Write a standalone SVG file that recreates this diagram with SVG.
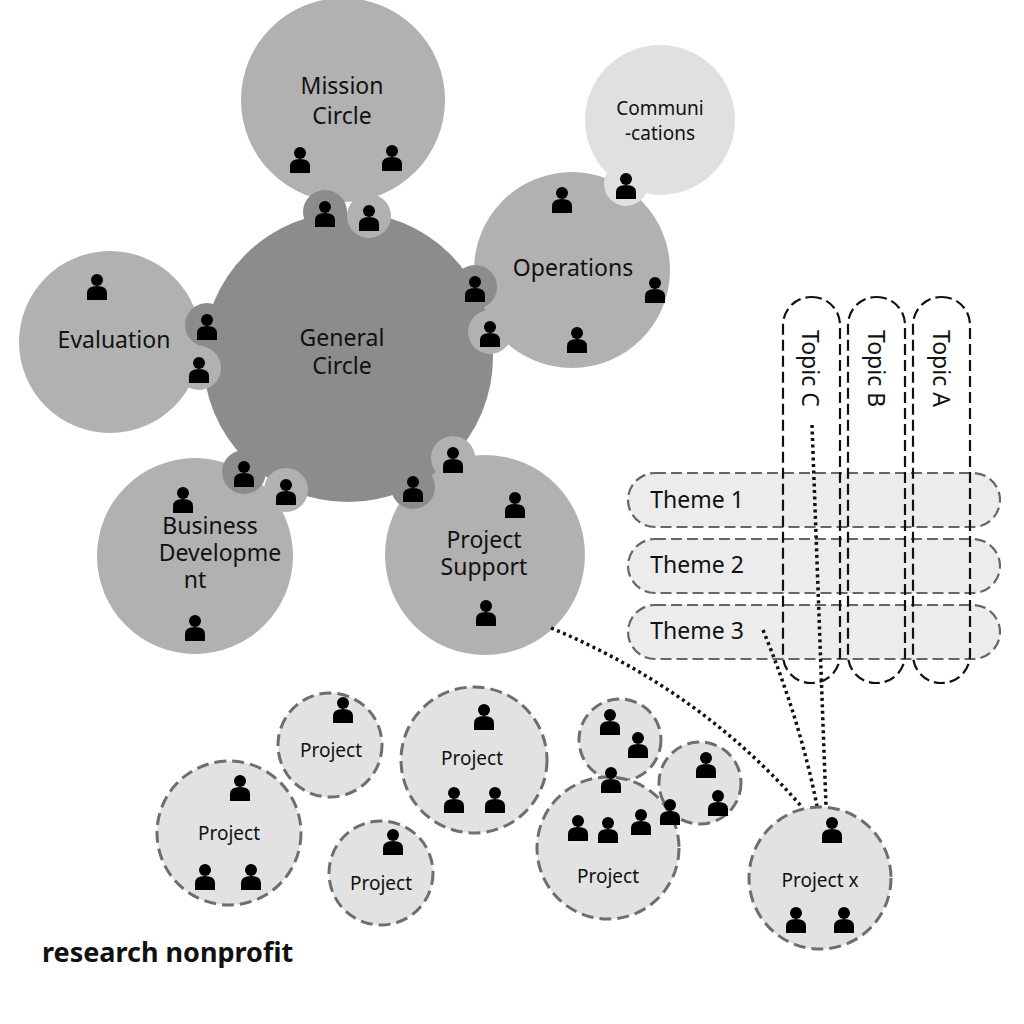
<svg xmlns="http://www.w3.org/2000/svg" xmlns:xlink="http://www.w3.org/1999/xlink" width="1024" height="1024" viewBox="0 0 1024 1024">
<style>
text{font-family:"Noto Sans","Liberation Sans",sans-serif;fill:#111;text-anchor:middle}
.big{font-size:23px}
.sm{font-size:19px}
.c1{fill:#b1b1b1}
.c0{fill:#8c8c8c}
.c2{fill:#e0e0e0}
.proj{fill:#e2e2e2;stroke:#6e6e6e;stroke-width:3;stroke-dasharray:12 6}
.theme{fill:#ececec;stroke:#666;stroke-width:2.2;stroke-dasharray:11 5}
.topic{fill:none;stroke:#111;stroke-width:2.2;stroke-dasharray:11 5}
.dot{fill:none;stroke:#111;stroke-width:3.5;stroke-dasharray:3 3.5}
</style>
<defs>
<g id="p"><circle cx="0" cy="-7" r="6" fill="#000"/><path d="M-10 13 V6 Q-10 -1 0 -1 Q10 -1 10 6 V13 Z" fill="#000"/></g>
</defs>
<rect width="1024" height="1024" fill="#fff"/>
<g id="mission"><circle class="c1" cx="343" cy="100" r="102"/><text class="big" x="342" y="94">Mission</text><text class="big" x="342" y="124">Circle</text><use href="#p" x="300" y="160"/><use href="#p" x="392" y="158"/></g>
<g id="communications"><circle class="c2" cx="660" cy="120" r="75"/><text class="sm" x="660" y="115">Communi</text><text class="sm" x="660" y="140">-cations</text></g>
<g id="operations"><circle class="c1" cx="572" cy="270" r="98"/><text class="big" x="573" y="276">Operations</text><use href="#p" x="562" y="200"/><use href="#p" x="655" y="290"/><use href="#p" x="577" y="340"/></g>
<g id="evaluation"><circle class="c1" cx="110" cy="342" r="91"/><text class="big" x="114" y="348">Evaluation</text><use href="#p" x="97" y="287"/></g>
<g id="business"><circle class="c1" cx="195" cy="556" r="98"/><text class="big" x="210" y="534">Business</text><text class="big" x="220" y="561">Developme</text><text class="big" x="195" y="588">nt</text><use href="#p" x="183" y="500"/><use href="#p" x="195" y="628"/></g>
<g id="projectsupport"><circle class="c1" cx="485" cy="555" r="100"/><text class="big" x="484" y="548">Project</text><text class="big" x="484" y="575">Support</text><use href="#p" x="515" y="505"/><use href="#p" x="486" y="613"/></g>
<g id="general"><circle class="c0" cx="348" cy="357" r="145"/><text class="big" x="342" y="346">General</text><text class="big" x="342" y="374">Circle</text></g>
<g id="links">
<circle class="c0" cx="325" cy="212" r="22"/><use href="#p" x="325" y="214"/>
<circle class="c1" cx="369" cy="216" r="22"/><use href="#p" x="369" y="218"/>
<circle class="c0" cx="207" cy="325" r="22"/><use href="#p" x="207" y="327"/>
<circle class="c1" cx="199" cy="368" r="22"/><use href="#p" x="199" y="370"/>
<circle class="c0" cx="475" cy="287" r="22"/><use href="#p" x="475" y="289"/>
<circle class="c1" cx="490" cy="332" r="22"/><use href="#p" x="490" y="334"/>
<circle class="c2" cx="626" cy="184" r="22"/><use href="#p" x="626" y="186"/>
<circle class="c0" cx="244" cy="472" r="22"/><use href="#p" x="244" y="474"/>
<circle class="c1" cx="286" cy="490" r="22"/><use href="#p" x="286" y="492"/>
<circle class="c1" cx="453" cy="458" r="22"/><use href="#p" x="453" y="460"/>
<circle class="c0" cx="413" cy="487" r="22"/><use href="#p" x="413" y="489"/>
</g>
<g id="themes">
<rect class="theme" x="628" y="473" width="372" height="54" rx="27"/><text class="big" x="697" y="508">Theme 1</text>
<rect class="theme" x="628" y="539" width="372" height="54" rx="27"/><text class="big" x="697" y="573">Theme 2</text>
<rect class="theme" x="628" y="605" width="372" height="54" rx="27"/><text class="big" x="697" y="639">Theme 3</text>
</g>
<g id="topics">
<rect class="topic" x="783" y="297" width="57" height="386" rx="28"/><text class="big" style="text-anchor:start" transform="translate(802,330) rotate(90)">Topic C</text>
<rect class="topic" x="848" y="297" width="57" height="386" rx="28"/><text class="big" style="text-anchor:start" transform="translate(868,330) rotate(90)">Topic B</text>
<rect class="topic" x="913" y="297" width="57" height="386" rx="28"/><text class="big" style="text-anchor:start" transform="translate(933,330) rotate(90)">Topic A</text>
</g>
<g id="connectors">
<path class="dot" d="M551 628 Q700 690 801 806"/>
<path class="dot" d="M763 630 Q800 720 817 806"/>
<path class="dot" d="M812 425 L826 806"/>
</g>
<g id="projects">
<g><circle class="proj" cx="330" cy="745" r="52"/><text class="sm" x="331" y="757">Project</text><use href="#p" x="343" y="710"/></g>
<g><circle class="proj" cx="229" cy="833" r="72"/><text class="sm" x="229" y="840">Project</text><use href="#p" x="240" y="788"/><use href="#p" x="205" y="877"/><use href="#p" x="251" y="877"/></g>
<g><circle class="proj" cx="474" cy="760" r="73"/><text class="sm" x="472" y="765">Project</text><use href="#p" x="484" y="717"/><use href="#p" x="454" y="800"/><use href="#p" x="495" y="800"/></g>
<g><circle class="proj" cx="381" cy="873" r="52"/><text class="sm" x="381" y="890">Project</text><use href="#p" x="393" y="842"/></g>
<g><circle class="proj" cx="620" cy="740" r="41"/><use href="#p" x="610" y="722"/><use href="#p" x="638" y="745"/></g>
<g><circle class="proj" cx="700" cy="783" r="41"/><use href="#p" x="706" y="765"/><use href="#p" x="718" y="803"/></g>
<g><circle class="proj" cx="608" cy="848" r="71"/><text class="sm" x="608" y="883">Project</text><use href="#p" x="611" y="780"/><use href="#p" x="578" y="828"/><use href="#p" x="608" y="830"/><use href="#p" x="641" y="822"/><use href="#p" x="670" y="812"/></g>
<g id="projectx"><circle class="proj" cx="820" cy="878" r="71"/><text class="sm" x="820" y="887">Project x</text><use href="#p" x="832" y="830"/><use href="#p" x="796" y="920"/><use href="#p" x="844" y="920"/></g>
</g>
<text x="42" y="962" style="text-anchor:start;font-size:27px;font-weight:bold">research nonprofit</text>
</svg>
